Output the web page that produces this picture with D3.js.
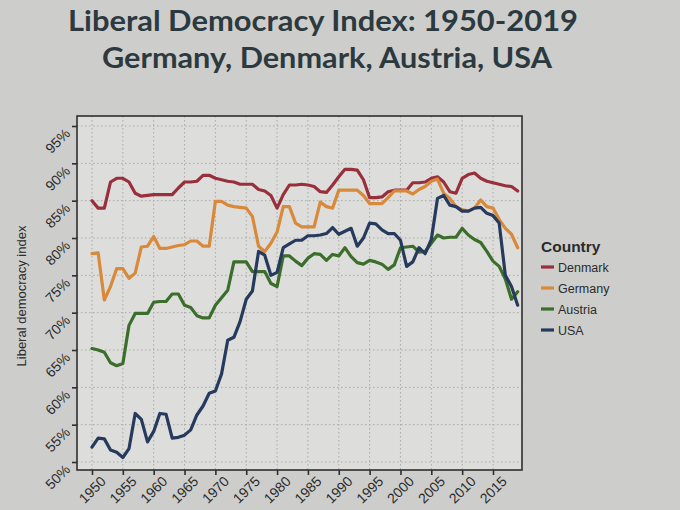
<!DOCTYPE html>
<html><head><meta charset="utf-8">
<script src="https://cdn.jsdelivr.net/npm/d3@7"></script>
<style>body{margin:0;background:#cdcecc;}svg{display:block;}</style>
</head><body>
<svg id="chart" width="680" height="510"></svg>
<script>
const years = d3.range(1950, 2020);
const countries = ["Denmark", "Germany", "Austria", "USA"];
const colors = ["#9a2f3c", "#d8893a", "#3c6e2b", "#253a5c"];
const denmark = [85.0,84.0,84.0,87.5,88.0,88.0,87.5,86.0,85.6,85.7,85.8,85.8,85.8,85.8,86.7,87.5,87.5,87.6,88.4,88.4,88.0,87.8,87.6,87.5,87.2,87.2,87.2,86.5,86.3,85.7,84.0,85.8,87.1,87.1,87.2,87.1,86.9,86.2,86.1,87.1,88.2,89.2,89.2,89.1,87.8,85.4,85.4,85.5,86.2,86.4,86.4,86.4,87.4,87.4,87.5,88.0,88.2,87.5,86.2,86.0,88.0,88.5,88.7,88.0,87.6,87.4,87.2,87.0,86.9,86.3];
const germany = [77.9,78.0,71.7,73.5,75.9,75.9,74.6,75.3,78.8,78.9,80.2,78.6,78.6,78.8,79.0,79.1,79.6,79.6,78.9,78.9,84.9,84.9,84.4,84.2,84.1,84.0,82.9,78.9,78.2,79.3,80.8,84.2,84.2,82.0,81.5,81.5,81.5,84.8,84.2,84.0,86.4,86.4,86.4,86.4,85.7,84.6,84.6,84.6,85.4,86.3,86.3,86.3,85.9,86.5,86.9,87.6,87.9,86.0,85.3,84.2,83.8,83.6,84.0,85.1,84.2,84.0,82.5,81.3,80.5,78.7];
const austria = [65.2,65.0,64.7,63.3,62.9,63.2,68.3,69.9,69.9,69.9,71.4,71.5,71.5,72.5,72.5,71.0,70.7,69.6,69.3,69.3,71.0,72.0,73.0,76.8,76.8,76.8,75.5,75.5,75.5,73.9,73.5,77.6,77.6,76.9,76.3,77.3,77.9,77.8,77.0,77.8,77.6,78.7,77.5,76.7,76.5,77.0,76.8,76.5,75.8,76.4,78.7,78.8,78.9,78.1,78.2,79.3,80.4,80.0,80.1,80.1,81.3,80.4,79.8,79.4,78.2,76.9,76.2,74.5,71.8,72.8];
const usa = [52.0,53.2,53.1,51.6,51.3,50.6,51.8,56.5,55.7,52.7,54.1,56.5,56.4,53.2,53.3,53.6,54.3,56.3,57.5,59.2,59.5,61.8,66.3,66.7,68.8,71.8,72.9,78.2,77.7,75.0,75.4,78.7,79.2,79.7,79.7,80.3,80.3,80.4,80.6,81.4,80.5,80.9,81.3,78.9,80.0,82.0,81.9,81.1,80.6,80.6,79.7,76.2,76.8,78.7,77.9,79.8,85.3,85.7,84.4,84.2,83.6,83.6,84.0,84.1,83.3,83.0,82.0,75.0,73.5,71.0];
const seriesValues = [denmark, germany, austria, usa];
const xTicks = d3.range(1950, 2016, 5);
const yTicks = d3.range(50, 96, 5);

const svg = d3.select("#chart");
const x = d3.scaleLinear().domain([1947.57, 2019.7]).range([77, 522]);
const y = d3.scaleLinear().domain([48.93, 96.34]).range([470, 116]);
const txt = "#2b2b2b";

// titles
svg.append("text").attr("x", 323).attr("y", 31).attr("text-anchor", "middle")
  .attr("font-family", "Lato, 'Open Sans', sans-serif").attr("font-weight", 700)
  .attr("font-size", 29).attr("fill", "#2c3a40")
  .attr("textLength", 510).attr("lengthAdjust", "spacingAndGlyphs")
  .text("Liberal Democracy Index: 1950-2019");
svg.append("text").attr("x", 327).attr("y", 68).attr("text-anchor", "middle")
  .attr("font-family", "Lato, 'Open Sans', sans-serif").attr("font-weight", 700)
  .attr("font-size", 29).attr("fill", "#2c3a40")
  .attr("textLength", 450).attr("lengthAdjust", "spacingAndGlyphs")
  .text("Germany, Denmark, Austria, USA");

// panel
svg.append("rect").attr("x", 77).attr("y", 116).attr("width", 445).attr("height", 354)
  .attr("fill", "#dddedc");

// grid
const g = svg.append("g");
g.selectAll(".gx").data(xTicks).join("line")
  .attr("x1", d => x(d)).attr("x2", d => x(d)).attr("y1", 116).attr("y2", 470)
  .attr("stroke", "#a9aaa8").attr("stroke-width", 1).attr("stroke-dasharray", "1.5,2.5");
g.selectAll(".gy").data(yTicks).join("line")
  .attr("y1", d => y(d)).attr("y2", d => y(d)).attr("x1", 77).attr("x2", 522)
  .attr("stroke", "#a9aaa8").attr("stroke-width", 1).attr("stroke-dasharray", "1.5,2.5");

// lines
const line = d3.line().x((d, i) => x(years[i])).y(d => y(d));
svg.append("g").selectAll("path").data(seriesValues).join("path")
  .attr("d", line).attr("fill", "none")
  .attr("stroke", (d, i) => colors[i]).attr("stroke-width", 3.2)
  .attr("stroke-linejoin", "round").attr("stroke-linecap", "round");

// border
svg.append("rect").attr("x", 77).attr("y", 116).attr("width", 445).attr("height", 354)
  .attr("fill", "none").attr("stroke", "#2e2e2e").attr("stroke-width", 1.6);

// axes
const xAxis = svg.append("g").attr("transform", "translate(0,470)")
  .call(d3.axisBottom(x).tickValues(xTicks).tickSize(5).tickFormat(d3.format("d")));
xAxis.select(".domain").remove();
xAxis.selectAll("line").attr("stroke", "#2e2e2e").attr("stroke-width", 1.6);
xAxis.selectAll("text").attr("font-family", "Arial, 'Liberation Sans', sans-serif")
  .attr("font-size", 14).attr("fill", txt).attr("text-anchor", "end")
  .attr("transform", "translate(4,2) rotate(-45)").attr("dy", "0.6em").attr("y", 6).attr("x", 0);

const yAxis = svg.append("g").attr("transform", "translate(77,0)")
  .call(d3.axisLeft(y).tickValues(yTicks).tickSize(5).tickFormat(d => d + "%"));
yAxis.select(".domain").remove();
yAxis.selectAll("line").attr("stroke", "#2e2e2e").attr("stroke-width", 1.6);
yAxis.selectAll("text").attr("font-family", "Arial, 'Liberation Sans', sans-serif")
  .attr("font-size", 14).attr("fill", txt).attr("text-anchor", "end")
  .attr("x", 0).attr("dy", 0)
  .attr("transform", "translate(-6,8) rotate(-45)");

svg.append("text").attr("transform", "translate(26,296) rotate(-90)")
  .attr("text-anchor", "middle").attr("font-family", "Arial, 'Liberation Sans', sans-serif")
  .attr("font-size", 13).attr("fill", txt).text("Liberal democracy index");

// legend
const lg = svg.append("g").attr("transform", "translate(541,0)");
lg.append("text").attr("x", 0).attr("y", 252).attr("font-family", "Arial, 'Liberation Sans', sans-serif")
  .attr("font-weight", 700).attr("font-size", 15.5).attr("fill", txt).text("Country");
const items = lg.selectAll(".it").data(countries).join("g")
  .attr("transform", (d, i) => `translate(0,${267 + i * 21})`);
items.append("line").attr("x1", 0).attr("x2", 13).attr("y1", 0).attr("y2", 0)
  .attr("stroke", (d, i) => colors[i]).attr("stroke-width", 3.2);
items.append("text").attr("x", 17).attr("y", 4.5).attr("font-family", "Arial, 'Liberation Sans', sans-serif")
  .attr("font-size", 12.5).attr("fill", txt).text(d => d);
</script>
</body></html>
